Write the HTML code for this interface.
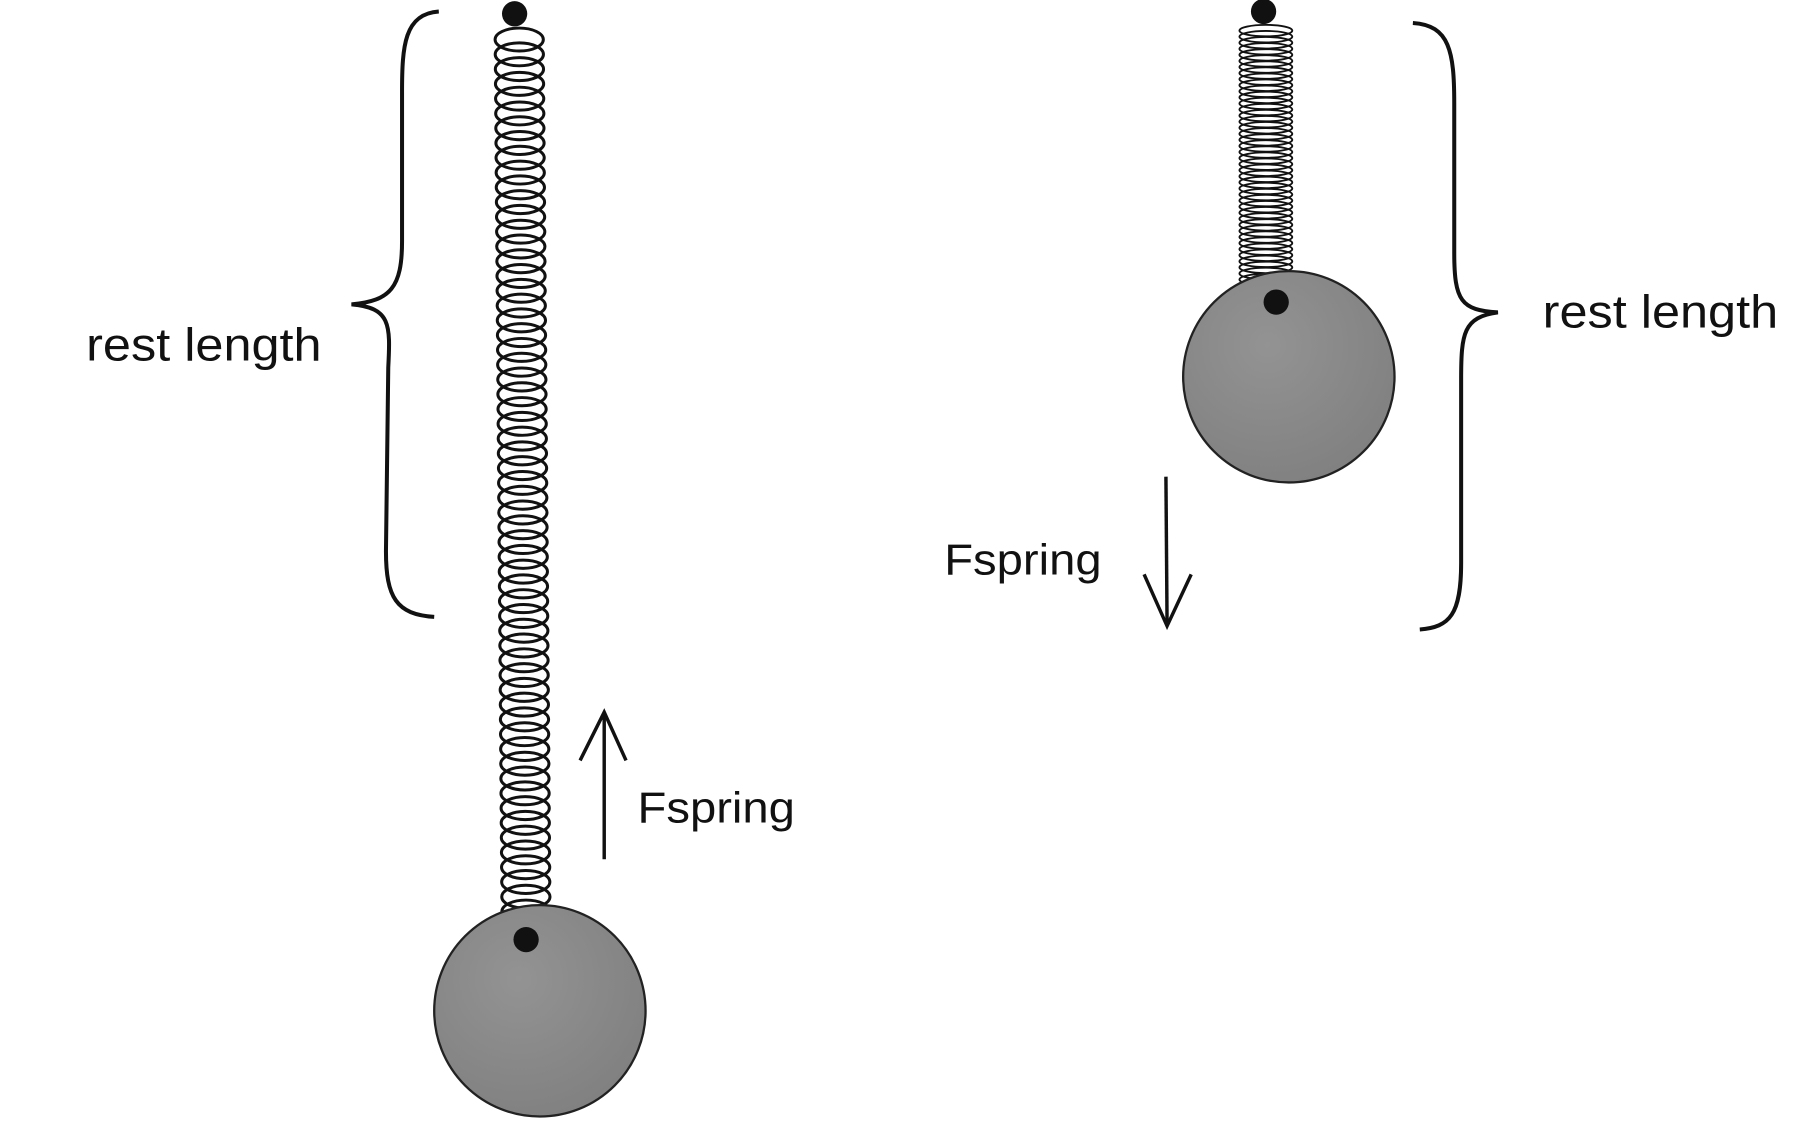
<!DOCTYPE html>
<html><head><meta charset="utf-8"><style>
html,body{margin:0;padding:0;background:#fff;width:1800px;height:1128px;overflow:hidden}
svg{display:block}
text{font-family:"Liberation Sans",sans-serif;fill:#111}
</style></head><body>
<svg id="fig" width="1800" height="1128" viewBox="0 0 1567 982" preserveAspectRatio="none">
<defs>
<radialGradient id="ballg" cx="0.4" cy="0.35" r="0.7">
<stop offset="0" stop-color="#939393"/><stop offset="1" stop-color="#808080"/></radialGradient>
</defs>
<g>
<path d="M382,10 C352,12 350,40 350,80 L350,210 C350,250 340,262 306,265 C340,268 340,282 338,320 L336,480 C336,520 345,535 378,537" fill="none" stroke="#111" stroke-width="3.5"/>
<text x="75" y="314" font-size="40" textLength="205" lengthAdjust="spacingAndGlyphs">rest length</text>
<g id="spring1"></g>
<circle cx="448" cy="12" r="11" fill="#111"/>
<circle cx="470" cy="880" r="92" fill="url(#ballg)" stroke="#222" stroke-width="2"/>
<circle cx="458" cy="818" r="11" fill="#111"/>
<g stroke="#111" stroke-width="3" fill="none">
<line x1="526" y1="748" x2="526" y2="622"/><path d="M505,662 L526,620 L545,662"/></g>
<text x="555" y="716" font-size="38" textLength="137" lengthAdjust="spacingAndGlyphs">Fspring</text>
</g>
<g>
<path d="M1230,20 C1262,22 1266,45 1266,90 L1266,220 C1266,262 1272,270 1304,272 C1274,276 1272,290 1272,330 L1272,490 C1272,535 1262,546 1236,548" fill="none" stroke="#111" stroke-width="3.5"/>
<text x="1343" y="285" font-size="40" textLength="205" lengthAdjust="spacingAndGlyphs">rest length</text>
<g id="spring2"></g>
<circle cx="1100" cy="10" r="11" fill="#111"/>
<circle cx="1122" cy="328" r="92" fill="url(#ballg)" stroke="#222" stroke-width="2"/>
<circle cx="1111" cy="263" r="11" fill="#111"/>
<g stroke="#111" stroke-width="3" fill="none">
<line x1="1015" y1="415" x2="1016" y2="543"/><path d="M996,500 L1016,545 L1037,500"/></g>
<text x="822" y="500" font-size="38" textLength="137" lengthAdjust="spacingAndGlyphs">Fspring</text>
</g>
</svg>
<script>
const springCoils = [60, 42];
const springTop = [28, 24];
const springBottom = [800, 246];
const springCenterX = [452, 1102];
const springRadiusX = [21, 23];
const springRadiusY = [10, 5];
const ns = "http://www.w3.org/2000/svg";
["spring1", "spring2"].forEach(function (id, s) {
  const g = document.getElementById(id);
  const n = springCoils[s];
  const pitch = (springBottom[s] - springTop[s]) / n;
  for (let i = 0; i < n; i++) {
    const e = document.createElementNS(ns, "ellipse");
    
    
    e.setAttribute("cx", springCenterX[s] + (s === 0 ? (i / n) * 6 : 0));
    e.setAttribute("cy", springTop[s] + pitch * (i + 0.5));
    e.setAttribute("rx", springRadiusX[s]);
    e.setAttribute("ry", springRadiusY[s]);
    e.setAttribute("fill", "none");
    e.setAttribute("stroke", "#111");
    e.setAttribute("stroke-width", s === 0 ? 2.6 : 1.6);
    g.appendChild(e);
  }
});
</script>
</body></html>
